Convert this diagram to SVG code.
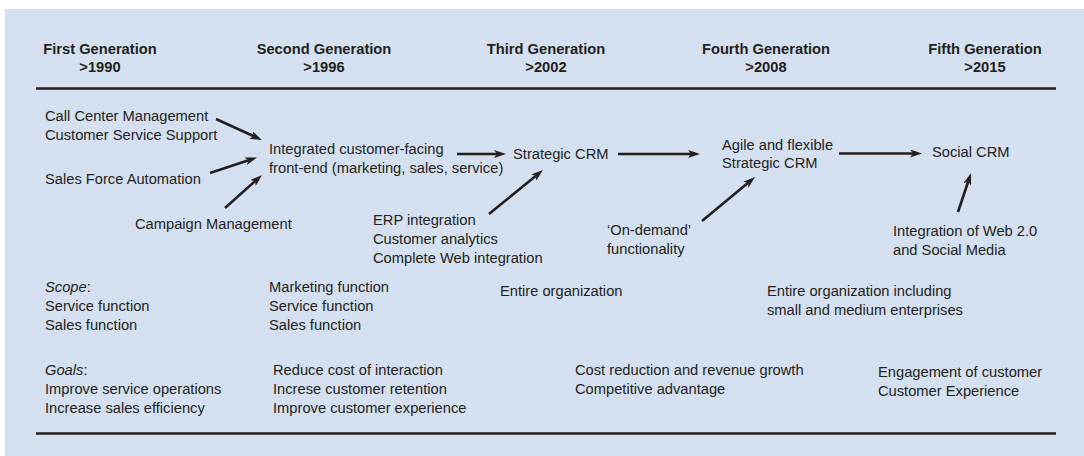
<svg xmlns="http://www.w3.org/2000/svg" width="1084" height="456" viewBox="0 0 1084 456">
<style>
text{font-family:"Liberation Sans",Arial,sans-serif;font-size:14.7px;fill:#231f20}
.h{font-weight:bold;text-anchor:middle}
.rule{stroke:#231f20;stroke-width:2.6}
.arr{stroke:#231f20;stroke-width:2.6;fill:none;marker-end:url(#ah)}
</style>
<defs>
<marker id="ah" viewBox="0 0 12 8" markerWidth="12" markerHeight="8" markerUnits="userSpaceOnUse" refX="3" refY="4" orient="auto">
<path d="M0,0 L12,4 L0,8 L3,4 z" fill="#231f20"/>
</marker>
</defs>
<rect x="5" y="9" width="1079" height="447" fill="#d4dfef"/>
<line class="rule" x1="36" y1="88.5" x2="1056" y2="88.5"/>
<line class="rule" x1="36" y1="433.5" x2="1056" y2="433.5"/>
<g id="headers">
<text class="h" x="100" y="53.5">First Generation</text><text class="h" x="100" y="72">&gt;1990</text>
<text class="h" x="324" y="53.5">Second Generation</text><text class="h" x="324" y="72">&gt;1996</text>
<text class="h" x="546" y="53.5">Third Generation</text><text class="h" x="546" y="72">&gt;2002</text>
<text class="h" x="766" y="53.5">Fourth Generation</text><text class="h" x="766" y="72">&gt;2008</text>
<text class="h" x="985" y="53.5">Fifth Generation</text><text class="h" x="985" y="72">&gt;2015</text>
</g>
<g id="n-callcenter"><text x="45" y="121">Call Center Management</text><text x="45" y="140">Customer Service Support</text></g>
<g id="n-sfa"><text x="45" y="184">Sales Force Automation</text></g>
<g id="n-campaign"><text x="135" y="229">Campaign Management</text></g>
<g id="n-integrated"><text x="269" y="153.5">Integrated customer-facing</text><text x="269" y="172.5">front-end (marketing, sales, service)</text></g>
<g id="n-strategic"><text x="513" y="159">Strategic CRM</text></g>
<g id="n-erp"><text x="373" y="225">ERP integration</text><text x="373" y="244">Customer analytics</text><text x="373" y="263">Complete Web integration</text></g>
<g id="n-agile"><text x="722" y="150">Agile and flexible</text><text x="722" y="168">Strategic CRM</text></g>
<g id="n-ondemand"><text x="607" y="235">‘On-demand’</text><text x="607" y="254">functionality</text></g>
<g id="n-social"><text x="932" y="157">Social CRM</text></g>
<g id="n-web20"><text x="893" y="236">Integration of Web 2.0</text><text x="893" y="255">and Social Media</text></g>
<g id="scope">
<text x="45" y="292"><tspan font-style="italic">Scope</tspan>:</text><text x="45" y="311">Service function</text><text x="45" y="330">Sales function</text>
<text x="269" y="292">Marketing function</text><text x="269" y="311">Service function</text><text x="269" y="330">Sales function</text>
<text x="500" y="296">Entire organization</text>
<text x="767" y="296">Entire organization including</text><text x="767" y="315">small and medium enterprises</text>
</g>
<g id="goals">
<text x="45" y="375"><tspan font-style="italic">Goals</tspan>:</text><text x="45" y="394">Improve service operations</text><text x="45" y="413">Increase sales efficiency</text>
<text x="273" y="375">Reduce cost of interaction</text><text x="273" y="394">Increse customer retention</text><text x="273" y="413">Improve customer experience</text>
<text x="575" y="375">Cost reduction and revenue growth</text><text x="575" y="394">Competitive advantage</text>
<text x="878" y="377">Engagement of customer</text><text x="878" y="396">Customer Experience</text>
</g>
<g id="connectors">
<line class="arr" x1="216" y1="119" x2="253.8" y2="136.3"/>
<line class="arr" x1="210" y1="173" x2="248.5" y2="160.3"/>
<line class="arr" x1="225" y1="208" x2="255.3" y2="181"/>
<line class="arr" x1="457" y1="154" x2="497" y2="154"/>
<line class="arr" x1="618" y1="154" x2="691" y2="154"/>
<line class="arr" x1="489" y1="214" x2="536" y2="175.7"/>
<line class="arr" x1="702" y1="221" x2="748.1" y2="182.8"/>
<line class="arr" x1="839" y1="153.5" x2="913" y2="153.5"/>
<line class="arr" x1="958" y1="212" x2="968.2" y2="181.5"/>
</g>
</svg>
